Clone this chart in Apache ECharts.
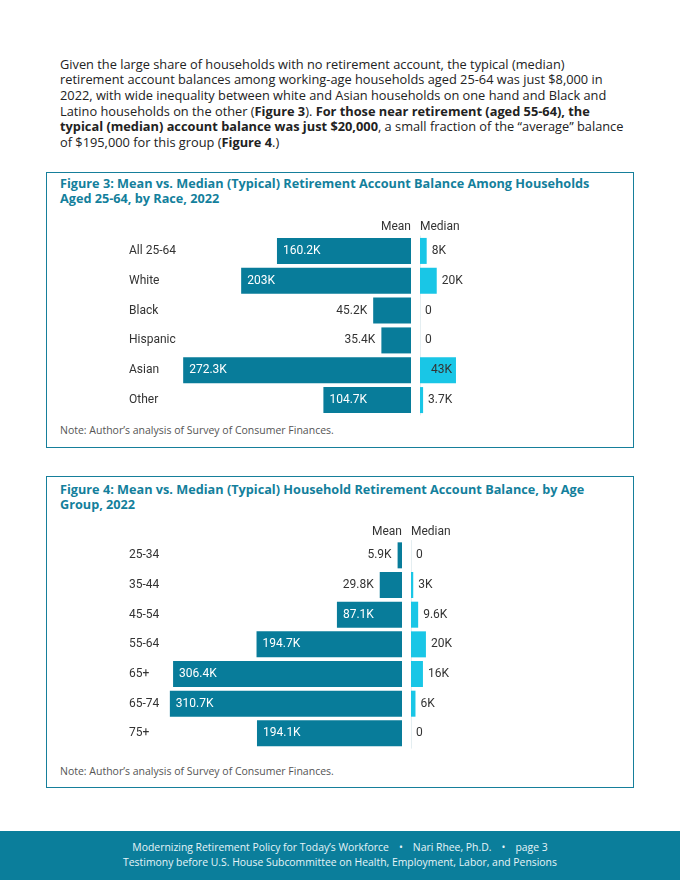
<!DOCTYPE html>
<html>
<head>
<meta charset="utf-8">
<script src="https://cdn.jsdelivr.net/npm/echarts@6/dist/echarts.min.js"></script>
<style>
  html, body { margin:0; padding:0; background:#fff; }
  #page { position:relative; width:680px; height:880px; overflow:hidden; font-family:"Open Sans", "Noto Sans", sans-serif; }
  .para { position:absolute; left:60px; top:56.5px; font-size:12.8px; line-height:15.7px; color:#222; white-space:nowrap; }
  .box { position:absolute; left:46px; width:586px; border:1px solid #167f9b; box-sizing:content-box; }
  .ttl { position:absolute; left:60px; font-size:12.7px; font-weight:700; line-height:15px; color:#137f9c; white-space:nowrap; }
  .note { position:absolute; left:60px; font-size:10.5px; color:#555; white-space:nowrap; }
  .footer { position:absolute; left:0; top:831px; width:680px; height:49px; background:#0b7e9b; color:#e6f4f8; font-size:10.4px; line-height:15px; text-align:center; white-space:nowrap; }
  .dot { margin:0 10px; }
  #chart { position:absolute; left:0; top:0; width:680px; height:880px; }
</style>
</head>
<body>
<div id="page">
  <div class="para">Given the large share of households with no retirement account, the typical (median)<br>retirement account balances among working-age households aged 25-64 was just $8,000 in<br>2022, with wide inequality between white and Asian households on one hand and Black and<br>Latino households on the other (<b>Figure 3</b>). <b>For those near retirement (aged 55-64), the</b><br><b>typical (median) account balance was just $20,000</b>, a small fraction of the “average” balance<br>of $195,000 for this group (<b>Figure 4</b>.)</div>

  <div class="box" style="top:172px;height:274px;"></div>
  <div class="ttl" style="top:176px;">Figure 3: Mean vs. Median (Typical) Retirement Account Balance Among Households<br>Aged 25-64, by Race, 2022</div>
  <div class="note" style="top:423px;">Note: Author’s analysis of Survey of Consumer Finances.</div>

  <div class="box" style="top:476px;height:310px;"></div>
  <div class="ttl" style="top:482px;">Figure 4: Mean vs. Median (Typical) Household Retirement Account Balance, by Age<br>Group, 2022</div>
  <div class="note" style="top:764px;">Note: Author’s analysis of Survey of Consumer Finances.</div>

  <div class="footer"><div style="padding-top:9px;">Modernizing Retirement Policy for Today’s Workforce<span class="dot">•</span>Nari Rhee, Ph.D.<span class="dot">•</span>page 3<br>Testimony before U.S. House Subcommittee on Health, Employment, Labor, and Pensions</div></div>

  <div id="chart"></div>
</div>
<script>
// ---- Data (values in thousands of dollars) ----
const fig3Categories = ['All 25-64', 'White', 'Black', 'Hispanic', 'Asian', 'Other'];
const fig3Mean = [160.2, 203, 45.2, 35.4, 272.3, 104.7];
const fig3Median = [8, 20, 0, 0, 43, 3.7];

const fig4Categories = ['25-34', '35-44', '45-54', '55-64', '65+', '65-74', '75+'];
const fig4Mean = [5.9, 29.8, 87.1, 194.7, 306.4, 310.7, 194.1];
const fig4Median = [0, 3, 9.6, 20, 16, 6, 0];

const headers = ['Mean', 'Median'];

// ---- Styling ----
const MEAN_COLOR = '#087c9a';
const MEDIAN_COLOR = '#19c6e6';
const TEXT = '#333';
const LABEL_FONT = 'Roboto';

function fmt(v) { return v === 0 ? '0' : v + 'K'; }

function meanData(vals) {
  return vals.map(v => ({
    value: v,
    label: v > 60
      ? { position: 'insideLeft', distance: 6, color: '#fff' }
      : { position: 'left', distance: 6, color: TEXT }
  }));
}
function medianData(vals) {
  return vals.map(v => ({
    value: v,
    label: v > 30
      ? { position: 'insideRight', distance: 4, color: TEXT }
      : { position: 'right', distance: 5, color: TEXT }
  }));
}

const chart = echarts.init(document.getElementById('chart'), null, { renderer: 'canvas' });

// Figure geometry (page pixels)
const g3 = { top: 236, height: 179, meanLeft: 160, meanWidth: 251, medLeft: 420, medWidth: 50.2, meanMax: 300, medMax: 60, labelMargin: 31 };
const g4 = { top: 540.5, height: 207.7, meanLeft: 140.5, meanWidth: 261.5, medLeft: 411, medWidth: 44.8, meanMax: 350, medMax: 60, labelMargin: 11.5 };

function grids(g) {
  return [
    { left: g.meanLeft, top: g.top, width: g.meanWidth, height: g.height, containLabel: false },
    { left: g.medLeft, top: g.top, width: g.medWidth, height: g.height, containLabel: false }
  ];
}
function xAxes(g, gi) {
  return [
    { type: 'value', gridIndex: gi, min: 0, max: g.meanMax, inverse: true, show: false },
    { type: 'value', gridIndex: gi + 1, min: 0, max: g.medMax, show: false }
  ];
}
function yAxes(g, cats, gi) {
  return [
    { type: 'category', gridIndex: gi, data: cats, inverse: true, position: 'left',
      axisLine: { show: false, onZero: false }, axisTick: { show: false }, splitLine: { show: false },
      axisLabel: { align: 'left', margin: g.labelMargin, color: TEXT, fontFamily: LABEL_FONT, fontSize: 12 } },
    { type: 'category', gridIndex: gi + 1, data: cats, inverse: true, position: 'left',
      axisLine: { show: true, onZero: false, lineStyle: { color: '#e4eef1', width: 1 } },
      axisTick: { show: false }, axisLabel: { show: false }, splitLine: { show: false } }
  ];
}
function series(meanVals, medVals, ai) {
  const lab = { show: true, fontFamily: LABEL_FONT, fontSize: 12, formatter: p => fmt(p.value) };
  return [
    { type: 'bar', xAxisIndex: ai, yAxisIndex: ai, data: meanData(meanVals), barWidth: 26,
      itemStyle: { color: MEAN_COLOR }, label: lab, silent: true },
    { type: 'bar', xAxisIndex: ai + 1, yAxisIndex: ai + 1, data: medianData(medVals), barWidth: 26,
      itemStyle: { color: MEDIAN_COLOR }, label: lab, silent: true }
  ];
}

function headerText(g, y) {
  const meanRight = g.meanLeft + g.meanWidth;
  return [
    { type: 'text', right: 680 - meanRight, top: y, style: { text: headers[0], fill: TEXT, font: '12px Roboto' } },
    { type: 'text', left: g.medLeft, top: y, style: { text: headers[1], fill: TEXT, font: '12px Roboto' } }
  ];
}

chart.setOption({
  animation: false,
  grid: [...grids(g3), ...grids(g4)],
  xAxis: [...xAxes(g3, 0), ...xAxes(g4, 2)],
  yAxis: [...yAxes(g3, fig3Categories, 0), ...yAxes(g4, fig4Categories, 2)],
  series: [...series(fig3Mean, fig3Median, 0), ...series(fig4Mean, fig4Median, 2)],
  graphic: [...headerText(g3, 221), ...headerText(g4, 526)]
});
</script>
</body>
</html>
